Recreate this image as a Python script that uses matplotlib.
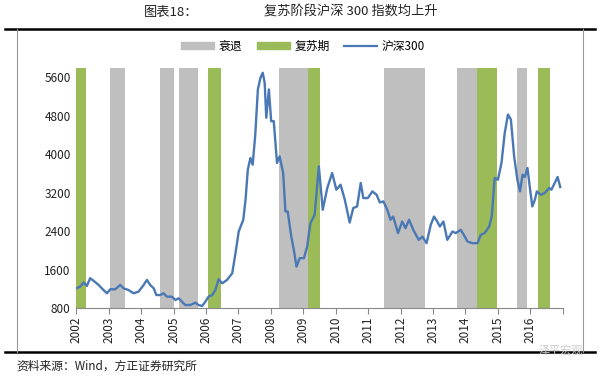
import matplotlib.pyplot as plt
from matplotlib.patches import Patch
from matplotlib.lines import Line2D

plt.rcParams["font.family"] = ["Noto Sans CJK SC", "DejaVu Sans"]

# 沪深300 (decimal year, index level)
dates = [
    2002.00, 2002.12, 2002.23, 2002.33, 2002.43, 2002.53, 2002.69, 2002.84, 2002.95,
    2003.05, 2003.20, 2003.36, 2003.46, 2003.61, 2003.77, 2003.92, 2004.08, 2004.18,
    2004.28, 2004.39, 2004.47, 2004.59, 2004.69, 2004.80, 2004.95, 2005.06, 2005.16,
    2005.26, 2005.36, 2005.52, 2005.67, 2005.77, 2005.88, 2005.98, 2006.08, 2006.19,
    2006.29, 2006.39, 2006.50, 2006.65, 2006.81, 2006.91, 2007.01, 2007.15, 2007.22,
    2007.29, 2007.37, 2007.44, 2007.52, 2007.60, 2007.68, 2007.75, 2007.81, 2007.86,
    2007.94, 2008.01, 2008.09, 2008.19, 2008.27, 2008.38, 2008.45, 2008.52, 2008.63,
    2008.71, 2008.79, 2008.89, 2009.02, 2009.12, 2009.22, 2009.35, 2009.48, 2009.60,
    2009.74, 2009.89, 2010.02, 2010.15, 2010.28, 2010.43, 2010.54, 2010.66, 2010.77,
    2010.85, 2010.99, 2011.13, 2011.26, 2011.36, 2011.47, 2011.59, 2011.69, 2011.77,
    2011.92, 2012.05, 2012.15, 2012.26, 2012.39, 2012.56, 2012.67, 2012.80, 2012.93,
    2013.03, 2013.13, 2013.21, 2013.32, 2013.44, 2013.60, 2013.70, 2013.85, 2013.95,
    2014.06, 2014.21, 2014.37, 2014.47, 2014.59, 2014.73, 2014.81, 2014.90, 2015.00,
    2015.11, 2015.21, 2015.31, 2015.40, 2015.50, 2015.60, 2015.68, 2015.76, 2015.83,
    2015.91, 2015.98, 2016.06, 2016.14, 2016.20, 2016.32, 2016.44, 2016.58, 2016.65,
    2016.75, 2016.84, 2016.92,
]
hs300 = [
    1210, 1245, 1330, 1260, 1420, 1370, 1280, 1175, 1107,
    1190, 1190, 1280, 1210, 1175, 1107, 1140, 1280, 1385,
    1280, 1210, 1070, 1070, 1107, 1036, 1036, 967, 1002,
    931, 863, 863, 911, 863, 842, 931, 1036, 1070,
    1175, 1399, 1315, 1385, 1524, 1941, 2392, 2637, 3054,
    3680, 3924, 3784, 4410, 5350, 5594, 5698, 5490, 4760,
    5350, 4690, 4690, 3820, 3958, 3611, 2810, 2810, 2288,
    2010, 1662, 1837, 1837, 2080, 2568, 2741, 3749, 2845,
    3298, 3611, 3263, 3367, 3054, 2580, 2880, 2915, 3403,
    3089, 3089, 3228, 3158, 2998, 3019, 2845, 2637, 2705,
    2359, 2601, 2463, 2637, 2428, 2219, 2288, 2150, 2532,
    2705, 2601, 2497, 2601, 2219, 2393, 2359, 2428, 2323,
    2184, 2150, 2150, 2323, 2359, 2497, 2705, 3507, 3471,
    3820, 4446, 4828, 4724, 3958, 3471, 3228, 3576, 3528,
    3716, 3332, 2915, 3054, 3228, 3158, 3193, 3298, 3263,
    3403, 3528, 3319,
]

# 衰退 / 复苏期 periods (start, end)
recession = [(2003.03, 2003.51), (2004.59, 2005.02), (2005.18, 2005.77),
             (2008.24, 2009.14), (2011.48, 2012.74), (2013.75, 2014.37),
             (2015.58, 2015.91)]
recovery = [(2002.00, 2002.31), (2006.05, 2006.47), (2009.14, 2009.53),
            (2014.37, 2014.98), (2016.23, 2016.62)]

years = list(range(2002, 2017))
yticks = [800, 1600, 2400, 3200, 4000, 4800, 5600]

gray = "#BFBFBF"
green = "#9BBB59"
blue = "#4A78B4"

fig = plt.figure(figsize=(6, 3.77), dpi=100)
ax = fig.add_axes([0.127, 0.183, 0.811, 0.637])

for a, b in recession:
    ax.axvspan(a, b, color=gray, lw=0)
for a, b in recovery:
    ax.axvspan(a, b, color=green, lw=0)
ax.plot(dates, hs300, color=blue, lw=1.7)

ax.set_xlim(2002, 2017)
ax.set_ylim(800, 5800)
ax.set_yticks(yticks)
ax.set_yticklabels([str(v) for v in yticks], fontsize=8.5, color="#222222")
ax.set_xticks(years + [2017])
ax.set_xticklabels([str(y) for y in years] + [""], rotation=90, fontsize=8.5, color="#222222")
ax.tick_params(axis="y", length=0, pad=4)
ax.tick_params(axis="x", direction="out", length=4, color="#888888", pad=2)
for s in ["top", "right", "left"]:
    ax.spines[s].set_visible(False)
ax.spines["bottom"].set_color("#888888")

# legend
handles = [Patch(color=gray), Patch(color=green), Line2D([], [], color=blue, lw=1.6)]
fig.legend(handles, ["衰退", "复苏期", "沪深300"], loc="center", bbox_to_anchor=(0.505, 0.877),
           ncol=3, frameon=False, fontsize=8.5, handlelength=2.8, handleheight=0.6,
           columnspacing=1.2, handletextpad=0.4)

# title, frame and source
fig.text(0.285, 0.967, "图表18：", fontsize=9.5, ha="center", va="center", color="#222222")
fig.text(0.585, 0.967, "复苏阶段沪深 300 指数均上升", fontsize=9.5, ha="center", va="center",
         color="#222222")
fig.add_artist(Line2D([0.008, 0.992], [0.923, 0.923], color="black", lw=1.8))
fig.add_artist(Line2D([0.008, 0.992], [0.066, 0.066], color="black", lw=1.8))
fig.add_artist(Line2D([0.028, 0.028], [0.066, 0.923], color="#999999", lw=0.8))
fig.add_artist(Line2D([0.972, 0.972], [0.066, 0.923], color="#999999", lw=0.8))
fig.text(0.028, 0.03, "资料来源：Wind，方正证券研究所", fontsize=8.5, style="italic",
         ha="left", va="center", color="#222222")
fig.text(0.935, 0.07, "泽平宏观", fontsize=8, ha="center", va="center", color="#cccccc")

fig.savefig("out.png", dpi=100)
